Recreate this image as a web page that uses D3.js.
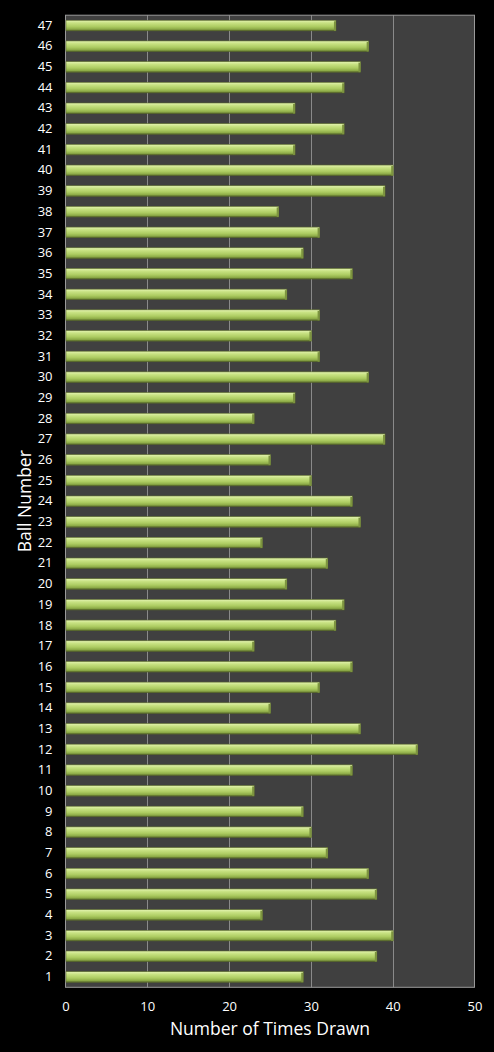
<!DOCTYPE html>
<html>
<head>
<meta charset="utf-8">
<script src="https://cdn.jsdelivr.net/npm/d3@7"></script>
<style>
  html, body { margin: 0; padding: 0; background: #000; }
  svg { display: block; }
</style>
</head>
<body>
<svg id="chart" width="494" height="1052"></svg>
<script>
// ball numbers 1..47 and how often each was drawn
const balls = ['1','2','3','4','5','6','7','8','9','10','11','12','13','14','15','16','17','18','19','20',
  '21','22','23','24','25','26','27','28','29','30','31','32','33','34','35','36','37','38','39','40',
  '41','42','43','44','45','46','47']
const timesDrawn = [29, 38, 40, 24, 38, 37, 32, 30, 29, 23, 35, 43, 36, 25, 31, 35, 23, 33, 34, 27,
  32, 24, 36, 35, 30, 25, 39, 23, 28, 37, 31, 30, 31, 27, 35, 29, 31, 26, 39, 40,
  28, 34, 28, 34, 36, 37, 33]
const xTicks = [0, 10, 20, 30, 40, 50]

const width = 494
const height = 1052
const margin = { top: 15.2, right: 19.5, bottom: 64.7, left: 65.5 }

const data = balls.map((b, i) => ({ ball: b, value: timesDrawn[i] }))

const svg = d3.select('#chart')

// bar gradient, gives the glossy tube look
const defs = svg.append('defs')
const grad = defs.append('linearGradient')
  .attr('id', 'barGrad')
  .attr('x1', 0).attr('y1', 0).attr('x2', 0).attr('y2', 1)
grad.selectAll('stop')
  .data([
    { o: '0%', c: '#e4f3b2' },
    { o: '25%', c: '#c8e283' },
    { o: '60%', c: '#adcc62' },
    { o: '85%', c: '#8dab47' },
    { o: '100%', c: '#56662a' }
  ])
  .enter()
  .append('stop')
  .attr('offset', d => d.o)
  .attr('stop-color', d => d.c)

let x = d3.scaleLinear()
  .domain([0, 50])
  .range([margin.left, width - margin.right])

let y = d3.scaleBand()
  .domain(balls.slice().reverse())
  .range([margin.top, height - margin.bottom])
  .paddingInner(0.49)
  .paddingOuter(0.245)

// plot background
svg.append('rect')
  .attr('x', margin.left)
  .attr('y', margin.top)
  .attr('width', x(50) - x(0))
  .attr('height', height - margin.bottom - margin.top)
  .attr('fill', '#404040')

// vertical gridlines
svg.append('g')
  .selectAll('line')
  .data(xTicks.slice(1, -1))
  .enter()
  .append('line')
  .attr('x1', d => Math.round(x(d)) + 0.5)
  .attr('x2', d => Math.round(x(d)) + 0.5)
  .attr('y1', margin.top)
  .attr('y2', height - margin.bottom)
  .attr('stroke', '#8a8a8a')
  .attr('stroke-width', 1)

// plot border
svg.append('rect')
  .attr('x', margin.left)
  .attr('y', margin.top)
  .attr('width', x(50) - x(0))
  .attr('height', height - margin.bottom - margin.top)
  .attr('fill', 'none')
  .attr('stroke', '#9a9a9a')
  .attr('stroke-width', 1)

// bars
svg.append('g')
  .selectAll('rect')
  .data(data)
  .enter()
  .append('rect')
  .attr('x', x(0) + 0.5)
  .attr('y', d => y(d.ball))
  .attr('width', d => x(d.value) - x(0))
  .attr('height', y.bandwidth())
  .attr('fill', 'url(#barGrad)')
  .attr('stroke', '#5e6f2c')
  .attr('stroke-width', 0.6)

// darker chamfer at the end of each bar
svg.append('g')
  .selectAll('rect')
  .data(data)
  .enter()
  .append('rect')
  .attr('x', d => x(d.value) - 1.5)
  .attr('y', d => y(d.ball) + 1)
  .attr('width', 2)
  .attr('height', y.bandwidth() - 1)
  .attr('fill', '#7d9440')

// y axis labels
let yAxis = g => g
  .attr('transform', `translate(${margin.left},0)`)
  .call(d3.axisLeft(y).tickSize(0).tickPadding(13))
  .call(g => g.select('.domain').remove())

svg.append('g')
  .call(yAxis)
  .selectAll('text')
  .attr('fill', '#fff')
  .style('font-family', '"Open Sans", sans-serif')
  .style('font-size', '13px')

// x axis labels
let xAxis = g => g
  .attr('transform', `translate(0,${height - margin.bottom})`)
  .call(d3.axisBottom(x).tickValues(xTicks).tickSize(0).tickPadding(14).tickFormat(d3.format('d')))
  .call(g => g.select('.domain').remove())

svg.append('g')
  .call(xAxis)
  .selectAll('text')
  .attr('fill', '#fff')
  .style('font-family', '"Open Sans", sans-serif')
  .style('font-size', '13px')

// axis titles
svg.append('text')
  .attr('x', (x(0) + x(50)) / 2)
  .attr('y', 1035)
  .attr('text-anchor', 'middle')
  .attr('fill', '#fff')
  .style('font-family', '"Open Sans", sans-serif')
  .style('font-size', '17.5px')
  .text('Number of Times Drawn')

svg.append('text')
  .attr('transform', `translate(31,${(margin.top + height - margin.bottom) / 2}) rotate(-90)`)
  .attr('text-anchor', 'middle')
  .attr('fill', '#fff')
  .style('font-family', '"Open Sans", sans-serif')
  .style('font-size', '17.5px')
  .text('Ball Number')
</script>
</body>
</html>
